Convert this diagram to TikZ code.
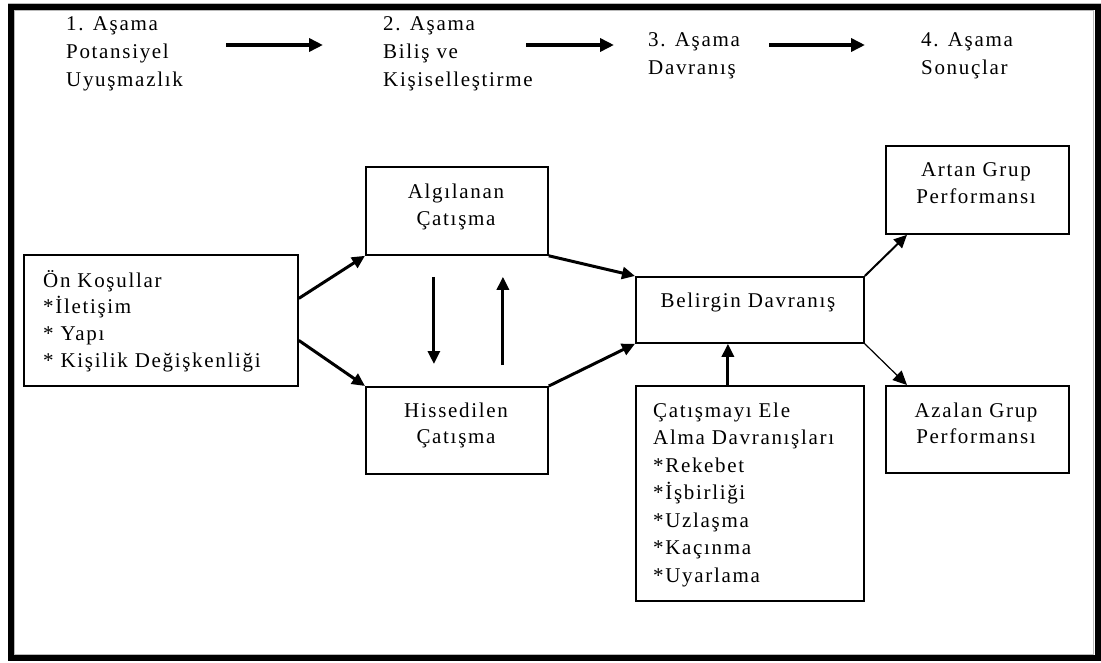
\documentclass[tikz,border=0pt]{standalone}
\usepackage{fontspec}
\usetikzlibrary{arrows.meta}
\newfontfamily\diagfamily[LetterSpace=8]{Liberation Serif}
\newcommand\diagfont{\diagfamily\fontsize{21pt}{27pt}\selectfont}
\begin{document}
\begin{tikzpicture}[x=1pt,y=-1pt,
  box/.style={draw, line width=1.8pt, inner sep=0pt, anchor=north west},
  txt/.style={inner sep=0pt, font=\diagfont},
  arr/.style={line width=3pt, -{Triangle[length=13pt,width=12pt]}},
  toparr/.style={line width=3.5pt, -{Triangle[length=14pt,width=13pt]}}]
\useasboundingbox (0,0) rectangle (1101,662);
% heavy outer frame
\fill[white] (0,0) rectangle (1101,662);
\fill[black] (8,4) rectangle (1101,661);
\fill[white] (14,10) rectangle (1095,655);
\draw[gray!55, line width=0.9pt] (14.5,10.5) rectangle (1093.5,654.5);
\draw[gray!55, line width=1pt] (8,3.5) -- (1101,3.5);

% stage headings
\foreach \s [count=\i] in {1. Aşama, Potansiyel, Uyuşmazlık}
  \node[txt, anchor=base west] (st1-\i) at (66, {30+28*(\i-1)}) {\s};
\foreach \s [count=\i] in {2. Aşama, Biliş ve, Kişiselleştirme}
  \node[txt, anchor=base west] (st2-\i) at (383, {30+28*(\i-1)}) {\s};
\foreach \s [count=\i] in {3. Aşama, Davranış}
  \node[txt, anchor=base west] (st3-\i) at (648, {46+28*(\i-1)}) {\s};
\foreach \s [count=\i] in {4. Aşama, Sonuçlar}
  \node[txt, anchor=base west] (st4-\i) at (921, {46+28*(\i-1)}) {\s};
\coordinate (h1a) at (226,45); \coordinate (h1b) at (323,45);
\coordinate (h2a) at (526,45); \coordinate (h2b) at (614,45);
\coordinate (h3a) at (769,45); \coordinate (h3b) at (865,45);
\draw[toparr] (h1a) -- (h1b);
\draw[toparr] (h2a) -- (h2b);
\draw[toparr] (h3a) -- (h3b);

% boxes
\node[box, minimum width=274pt, minimum height=131pt] (on) at (23,254) {};
\node[box, minimum width=182pt, minimum height=88pt] (alg) at (365,166) {};
\node[box, minimum width=182pt, minimum height=87pt] (his) at (365,386) {};
\node[box, minimum width=228pt, minimum height=66pt] (bel) at (635,276) {};
\node[box, minimum width=228pt, minimum height=215pt] (cat) at (635,385) {};
\node[box, minimum width=183pt, minimum height=88pt] (art) at (885,145) {};
\node[box, minimum width=183pt, minimum height=87pt] (aza) at (885,385) {};

% box texts
\foreach \s [count=\i] in {Ön Koşullar, *İletişim, * Yapı, * Kişilik Değişkenliği}
  \node[txt, anchor=base west] (on-\i) at (43, {287+26.7*(\i-1)}) {\s};
\node[txt, anchor=base] (alg-1) at (456,198) {Algılanan};
\node[txt, anchor=base] (alg-2) at (456,225) {Çatışma};
\node[txt, anchor=base] (his-1) at (456,417) {Hissedilen};
\node[txt, anchor=base] (his-2) at (456,443) {Çatışma};
\node[txt, anchor=base] (bel-1) at (748,307) {Belirgin Davranış};
\foreach \s [count=\i] in {Çatışmayı Ele, Alma Davranışları, *Rekebet, *İşbirliği, *Uzlaşma, *Kaçınma, *Uyarlama}
  \node[txt, anchor=base west] (cat-\i) at (653, {417+27.5*(\i-1)}) {\s};
\node[txt, anchor=base] (art-1) at (976,176) {Artan Grup};
\node[txt, anchor=base] (art-2) at (976,203) {Performansı};
\node[txt, anchor=base] (aza-1) at (976,417) {Azalan Grup};
\node[txt, anchor=base] (aza-2) at (976,443) {Performansı};

% connectors
\draw[arr] ([yshift=22pt]on.east) -- (alg.south west);
\draw[arr] ([yshift=-20pt]on.east) -- (his.north west);
\draw[arr] (alg.south east) -- (bel.north west);
\draw[arr] (his.north east) -- (bel.south west);
\draw[arr, shorten <=21pt, shorten >=22pt] ([xshift=-23pt]alg.south) -- ([xshift=-23pt]his.north);
\draw[arr, shorten <=21pt, shorten >=21pt] ([xshift=46pt]his.north) -- ([xshift=46pt]alg.south);
\draw[arr] ([xshift=-22pt]cat.north) -- ([xshift=-22pt]bel.south);
\draw[line width=2pt, -{Triangle[length=13pt,width=12pt]}] (bel.north east) -- ([xshift=22pt]art.south west);
\draw[line width=1.2pt, -{Triangle[length=14pt,width=13pt]}] (bel.south east) -- ([xshift=22pt]aza.north west);
\end{tikzpicture}
\end{document}
